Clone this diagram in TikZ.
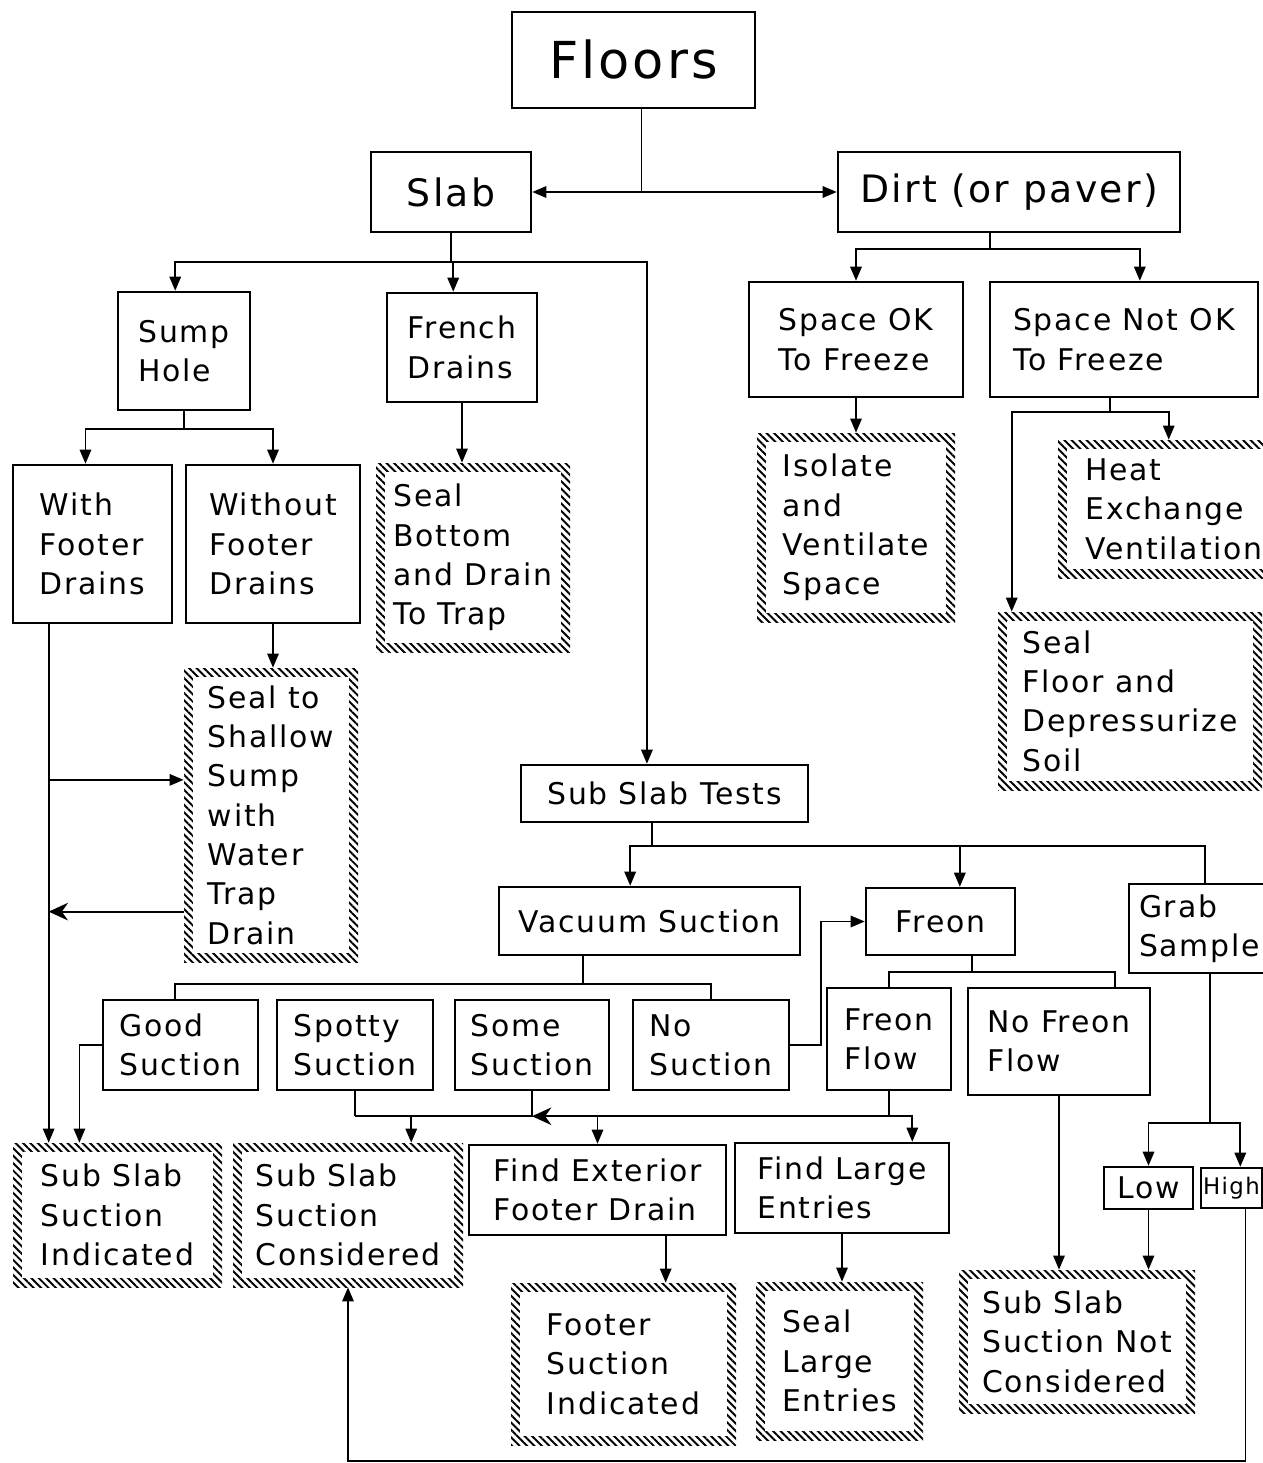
\documentclass[tikz,border=0pt]{standalone}
\usepackage{fontspec}
\setmainfont[LetterSpace=6]{DejaVu Sans}
\usepackage{tikz}
\usetikzlibrary{arrows.meta,patterns.meta}
\newcommand\boxfont{\fontsize{17}{22.4}\selectfont}
\newcommand\bigfont{\fontsize{21.5}{26}\selectfont}

\begin{document}
\begin{tikzpicture}[
  x=0.02cm,y=-0.02cm,
  every node/.style={font=\boxfont},
  sz/.style 2 args={minimum width=#1*0.02cm,minimum height=#2*0.02cm},
  box/.style={draw,line width=1.4pt,align=left,inner sep=0pt},
  hatch/.style={fill=white,align=left,inner sep=0pt,path picture={
    \fill[pattern={Lines[angle=-45,distance=3pt,line width=1.1pt]}]
      (path picture bounding box.south west) rectangle (path picture bounding box.north east);
    \fill[white] ([shift={(5pt,5pt)}]path picture bounding box.south west)
      rectangle ([shift={(-5pt,-5pt)}]path picture bounding box.north east);}},
  line/.style={line width=1pt},
  arr/.style={line,-{Triangle[length=8pt,width=6.5pt]}},
  arrl/.style={line,-{Stealth[length=11pt,width=10pt,inset=3.5pt]}},
  arrd/.style={line,{Triangle[length=8pt,width=6.5pt]}-{Triangle[length=8pt,width=6.5pt]}}
]
  \useasboundingbox (0,0) rectangle (1263,1463);
  \clip (0,0) rectangle (1263,1463);

  % top levels
  \node[box,sz={243}{96},font=\fontsize{29}{34}\selectfont] (floors) at (633.5,60) {Floors};
  \node[box,sz={160}{80},font=\bigfont] (slab) at (451,192) {Slab};
  \node[box,sz={342}{80},font=\bigfont] (dirt) at (1009,192) {Dirt (or paver)};
  \node[box,sz={132}{118}] (sump) at (184,351) {Sump\\Hole};
  \node[box,sz={150}{109}] (french) at (462,347.5) {French\\Drains};
  \node[box,sz={214}{115}] (spaceok) at (856,339.5) {Space OK\\To Freeze};
  \node[box,sz={268}{115}] (spacenot) at (1124,339.5) {Space Not OK\\To Freeze};
  \node[box,sz={159}{158}] (withfd) at (92.5,544) {With\\Footer\\Drains};
  \node[box,sz={174}{158}] (withoutfd) at (273,544) {Without\\Footer\\Drains};
  \node[hatch,sz={194}{189}] (sealbot) at (473,557.5) {Seal\\Bottom\\and Drain\\To Trap};
  \node[hatch,sz={198}{189}] (isolate) at (856,527.5) {Isolate\\and\\Ventilate\\Space};
  \node[hatch,sz={232}{138}] (heatex) at (1174,509) {Heat\\Exchange\\Ventilation};
  \node[hatch,sz={264}{178}] (sealfloor) at (1130,701) {Seal\\Floor and\\Depressurize\\Soil};
  \node[hatch,sz={174}{294}] (shallow) at (271,815) {Seal to\\Shallow\\Sump\\with\\Water\\Trap\\Drain};

  % sub slab tests
  \node[box,sz={287}{57}] (subtests) at (664.5,793.5) {Sub Slab Tests};
  \node[box,sz={301}{68}] (vacuum) at (649.5,921) {Vacuum Suction};
  \node[box,sz={149}{67}] (freon) at (940.5,921.5) {Freon};
  \node[box,sz={141}{89}] (grab) at (1199.5,928.5) {Grab\\Sample};
  \node[box,sz={155}{90}] (good) at (180.5,1045) {Good\\Suction};
  \node[box,sz={156}{90}] (spotty) at (355,1045) {Spotty\\Suction};
  \node[box,sz={154}{90}] (some) at (532,1045) {Some\\Suction};
  \node[box,sz={156}{90}] (nosuct) at (711,1045) {No\\Suction};
  \node[box,sz={124}{102}] (freonflow) at (889,1039) {Freon\\Flow};
  \node[box,sz={182}{107}] (nofreon) at (1059,1041.5) {No Freon\\Flow};
  \node[hatch,sz={209}{144}] (ssind) at (117.5,1215) {Sub Slab\\Suction\\Indicated};
  \node[hatch,sz={230}{144}] (sscons) at (348,1215) {Sub Slab\\Suction\\Considered};
  \node[box,sz={257}{90}] (findext) at (597.5,1190) {Find Exterior\\Footer Drain};
  \node[box,sz={214}{90}] (findlarge) at (842,1188) {Find Large\\Entries};
  \node[hatch,sz={225}{162}] (footsuct) at (623.5,1364) {Footer\\Suction\\Indicated};
  \node[hatch,sz={167}{158}] (seallarge) at (839.5,1361) {Seal\\Large\\Entries};
  \node[hatch,sz={236}{143}] (ssnot) at (1077,1341.5) {Sub Slab\\Suction Not\\Considered};
  \node[box,sz={89}{42}] (low) at (1148.5,1188) {Low};
  \node[box,sz={61}{40},font=\fontsize{13}{16}\selectfont] (high) at (1231.5,1188) {High};

  % floors
  \coordinate (fl) at ([xshift=4.5pt]floors.south);
  \draw[line] (fl) -- (fl |- slab.east);
  \draw[arrd] (slab.east) -- (dirt.west);

  % slab
  \draw[line] (slab.south) -- ++(0,29) coordinate (slabbus);
  \draw[arr] (slabbus) -| ([xshift=-5pt]sump.north);
  \draw[arr] (slabbus) -| ([xshift=-5pt]french.north);
  \draw[arr] (slabbus) -| ([xshift=-10pt]subtests.north);
  \draw[line] (sump.south) -- ++(0,18) coordinate (sumpbus);
  \draw[arr] (sumpbus) -| ([xshift=-4pt]withfd.north);
  \draw[arr] (sumpbus) -| (withoutfd.north);
  \draw[arr] (french.south) -- (french.south |- sealbot.north);
  \draw[arr] (withoutfd.south) -- (withoutfd.south |- shallow.north);
  \coordinate (fdline) at ([xshift=21pt]withfd.south west);
  \coordinate (shin) at ([yshift=20pt]shallow.west);
  \coordinate (shout) at ([yshift=-55pt]shallow.west);
  \draw[arr] (fdline) -- (fdline |- ssind.north);
  \draw[arr] (fdline |- shin) -- (shin);
  \draw[arrl] (shout) -- (fdline |- shout);

  % dirt
  \draw[line] ([xshift=-11pt]dirt.south) -- ++(0,16) coordinate (dirtbus);
  \draw[arr] (dirtbus) -| (spaceok.north);
  \draw[arr] (dirtbus) -| ([xshift=9pt]spacenot.north);
  \draw[arr] (spaceok.south) -- (spaceok.south |- isolate.north);
  \draw[line] ([xshift=-8pt]spacenot.south) -- ++(0,14) coordinate (notbus);
  \draw[arr] (notbus) -| ([xshift=-3pt]heatex.north);
  \draw[arr] (notbus) -| ([xshift=8pt]sealfloor.north west);

  % tests
  \draw[line] ([xshift=-7pt]subtests.south) -- ++(0,23) coordinate (testbus);
  \draw[arr] (testbus) -| ([xshift=-11pt]vacuum.north);
  \draw[arr] (testbus) -| ([xshift=11pt]freon.north);
  \draw[line] (testbus) -| ([xshift=3pt]grab.north);
  \draw[line] ([xshift=-38pt]vacuum.south) -- ++(0,28) coordinate (vacbus);
  \draw[line] (vacbus) -| ([xshift=-3pt]good.north);
  \draw[line] (vacbus) -| (nosuct.north);
  \draw[arr] (nosuct.east) -- ++(31,0) |- (freon.west);
  \draw[line] ([xshift=18pt]freon.south) -- ++(0,16) coordinate (frbus);
  \draw[line] (frbus) -| (freonflow.north);
  \draw[line] (frbus) -| ([xshift=32pt]nofreon.north);
  \draw[arr] (good.west) -| ([xshift=38pt]ssind.north west);

  % results
  \draw[line] (spotty.south) -- ++(0,25) coordinate (midbus);
  \draw[line] (freonflow.south) -- (freonflow.south |- midbus) coordinate (ffbus);
  \draw[arr] (ffbus) -| ([xshift=40pt]findlarge.north);
  \draw[arrl] (ffbus) -- (some.south |- midbus);
  \draw[line] (some.south) -- (some.south |- midbus) -- (midbus);
  \coordinate (sscin) at ([xshift=36pt]sscons.north);
  \draw[arr] (sscin |- midbus) -- (sscin);
  \draw[arr] (findext.north |- midbus) -- (findext.north);
  \coordinate (fsin) at ([xshift=24pt]footsuct.north);
  \draw[arr] (fsin |- findext.south) -- (fsin);
  \draw[arr] (findlarge.south) -- (findlarge.south |- seallarge.north);
  \draw[arr] (nofreon.south) -- (nofreon.south |- ssnot.north);
  \draw[line] ([xshift=6pt]grab.south) -- ++(0,149) coordinate (grabbus);
  \draw[arr] (grabbus) -| (low.north);
  \draw[arr] (grabbus) -| ([xshift=5pt]high.north);
  \draw[arr] (low.south) -- (low.south |- ssnot.north);
  \draw[arr] ([xshift=8pt]high.south) -- ++(0,252) -| (sscons.south);
\end{tikzpicture}
\end{document}
